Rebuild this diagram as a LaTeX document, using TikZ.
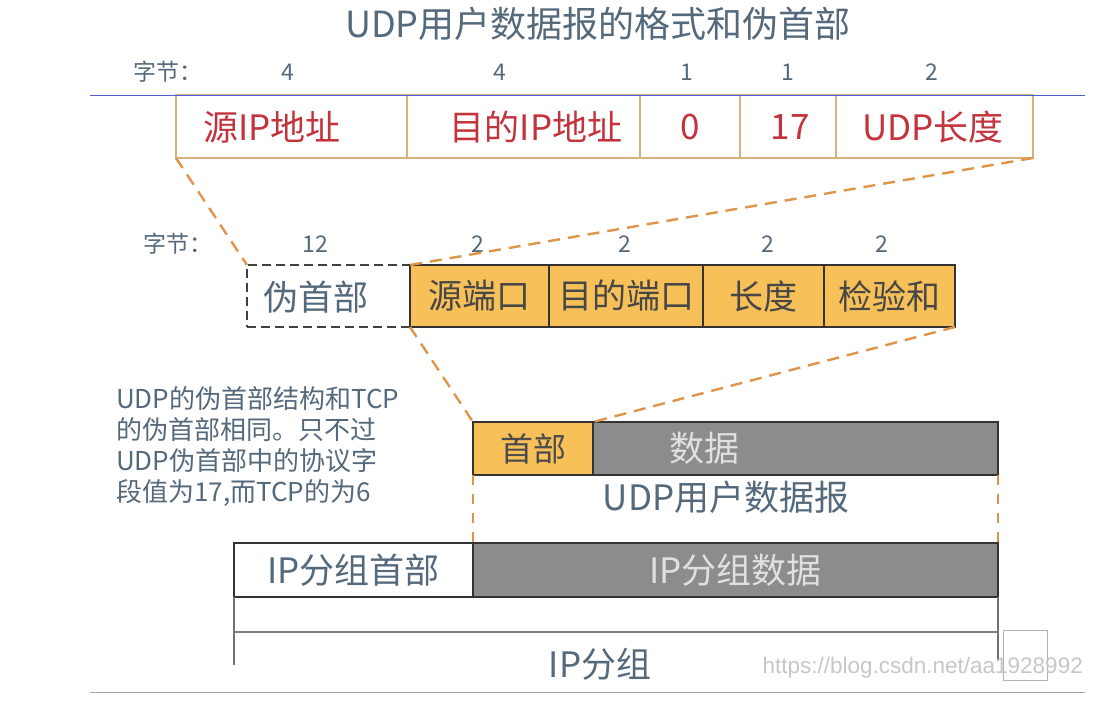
\documentclass[tikz,border=0pt]{standalone}
\usepackage{fontspec}
\setmainfont{Noto Sans CJK SC}
\newfontfamily\wmfont{Liberation Sans}
\begin{document}
\definecolor{inkblue}{HTML}{55697C}
\definecolor{inkred}{HTML}{C4323C}
\definecolor{tanline}{HTML}{D8B080}
\definecolor{orangefill}{HTML}{F8C058}
\definecolor{orangedash}{HTML}{E0944A}
\definecolor{greyfill}{HTML}{8C8C8C}
\definecolor{rulebluecol}{HTML}{4A5FD0}
\definecolor{darkline}{HTML}{333333}
\begin{tikzpicture}[x=1pt,y=-1pt,
  cell/.style={draw, inner sep=0pt, outer sep=0pt, anchor=center},
  topcell/.style={cell, draw=tanline, line width=1.4pt, minimum height=63pt},
  toptext/.style={text=inkred, font=\fontsize{35}{40}\selectfont, inner sep=0pt},
  midcell/.style={cell, draw=darkline, line width=1.5pt, fill=orangefill, minimum height=62pt,
    text=black!72, font=\fontsize{34}{40}\selectfont},
  pseudocell/.style={cell, draw=black!75, line width=1.8pt, dash pattern=on 9pt off 5pt,
    minimum height=62pt},
  lowcell/.style={cell, draw=darkline, line width=1.8pt, minimum height=53pt},
  ipcell/.style={cell, draw=darkline, line width=1.8pt, minimum height=54pt},
  bytes/.style={text=inkblue, font=\fontsize{23}{26}\selectfont, inner sep=0pt},
  caption/.style={text=inkblue, font=\fontsize{35}{40}\selectfont, inner sep=0pt},
  lighttext/.style={text=black!12, font=\fontsize{35}{40}\selectfont, inner sep=0pt},
  zoomline/.style={draw=orangedash, line width=2.4pt, dash pattern=on 12pt off 8pt},
  bracket/.style={draw=black!55, line width=1.2pt}
]
\useasboundingbox (0,0) rectangle (1114,704);
\fill[white] (0,0) rectangle (1114,704);

% title
\node[text=inkblue, font=\fontsize{36}{42}\selectfont, inner sep=0pt] (title) at (598,24) {UDP用户数据报的格式和伪首部};

% byte counts of the pseudo header fields
\node[bytes, anchor=west] (bytesA) at (133,72) {字节：};
\node[bytes] (nA1) at (288,72) {4};
\node[bytes] (nA2) at (500,72) {4};
\node[bytes] (nA3) at (687,72) {1};
\node[bytes] (nA4) at (788,72) {1};
\node[bytes] (nA5) at (932,72) {2};

% pseudo header fields
\node[topcell, minimum width=231pt] (a1) at (291.5,126.5) {};
\node[topcell, minimum width=233pt] (a2) at (523.5,126.5) {};
\node[topcell, minimum width=100pt] (a3) at (690,126.5) {};
\node[topcell, minimum width=96pt]  (a4) at (788,126.5) {};
\node[topcell, minimum width=197pt] (a5) at (934.5,126.5) {};
\node[toptext] (t1) at (272,127) {源IP地址};
\node[toptext] (t2) at (536,127) {目的IP地址};
\node[toptext] (t3) at (690,127) {0};
\node[toptext] (t4) at (790,127) {17};
\node[toptext] (t5) at (933,127) {UDP长度};

% page rules
\coordinate (ruleL) at (90,95);
\coordinate (ruleR) at (1085,95);
\draw[rulebluecol, line width=1pt] (ruleL) -- (ruleR);
\coordinate (footL) at (90,692);
\coordinate (footR) at (1085,692);
\draw[black!35, line width=1pt] (footL) -- (footR);

% byte counts of the UDP header
\node[bytes, anchor=west] (bytesB) at (143,244) {字节：};
\node[bytes] (nB1) at (315,244) {12};
\node[bytes] (nB2) at (478,244) {2};
\node[bytes] (nB3) at (625,244) {2};
\node[bytes] (nB4) at (768,244) {2};
\node[bytes] (nB5) at (882,244) {2};

% pseudo header + UDP header
\node[pseudocell, minimum width=163pt] (pseudo) at (328.5,296) {};
\node[caption] (pseudotext) at (316,297) {伪首部};
\node[midcell, minimum width=139pt] (b1) at (479.5,296) {源端口};
\node[midcell, minimum width=154pt] (b2) at (626,296) {目的端口};
\node[midcell, minimum width=121pt] (b3) at (763.5,296) {长度};
\node[midcell, minimum width=131pt] (b4) at (889.5,296) {检验和};

% zoom lines from the pseudo header fields
\draw[zoomline] (a1.south west) -- (pseudo.north west);
\draw[zoomline] (a5.south east) -- (b1.north west);

% note
\node[text=inkblue, font=\fontsize{26}{31}\selectfont, align=left, anchor=north west, inner sep=0pt] (note) at (116,386)
  {UDP的伪首部结构和TCP\\的伪首部相同。只不过\\UDP伪首部中的协议字\\段值为17,而TCP的为6};

% UDP datagram
\node[lowcell, fill=orangefill, minimum width=120pt, text=black!70, font=\fontsize{33}{38}\selectfont] (hdr) at (533,448.5) {首部};
\node[lowcell, fill=greyfill, minimum width=405pt] (data) at (795.5,448.5) {};
\node[lighttext] (datatext) at (704,448) {数据};
\node[caption] (udpcap) at (726,497) {UDP用户数据报};

\draw[zoomline] (b1.south west) -- (hdr.north west);
\draw[zoomline] (b4.south east) -- (hdr.north east);

% IP packet
\node[ipcell, fill=white, minimum width=239pt, text=inkblue, font=\fontsize{35}{40}\selectfont] (iphdr) at (353.5,570) {IP分组首部};
\node[ipcell, fill=greyfill, minimum width=525pt, text=black!12, font=\fontsize{35}{40}\selectfont] (ipdata) at (735.5,570) {IP分组数据};

\draw[zoomline, dash pattern=on 10pt off 9pt] (hdr.south west) -- (iphdr.north east);
\draw[zoomline, dash pattern=on 10pt off 9pt] (data.south east) -- (ipdata.north east);

% bracket under the IP packet
\coordinate (brL) at (234,665);
\coordinate (brR) at (998,660);
\draw[bracket] (iphdr.south west) -- (brL);
\draw[bracket] (ipdata.south east) -- (brR);
\draw[black!50, line width=2pt] (234,632) -- (998,632);
\node[caption] (ipcap) at (600,664) {IP分组};

% watermark
\node[draw=black!30, line width=0.8pt, minimum width=44pt, minimum height=50pt, inner sep=0pt] (wmbox) at (1025,655) {};
\node[text=black!22, font=\wmfont\fontsize{22.5}{26}\selectfont, anchor=east, inner sep=0pt] (wm) at (1083,668) {https://blog.csdn.net/aa1928992};
\end{tikzpicture}
\end{document}
